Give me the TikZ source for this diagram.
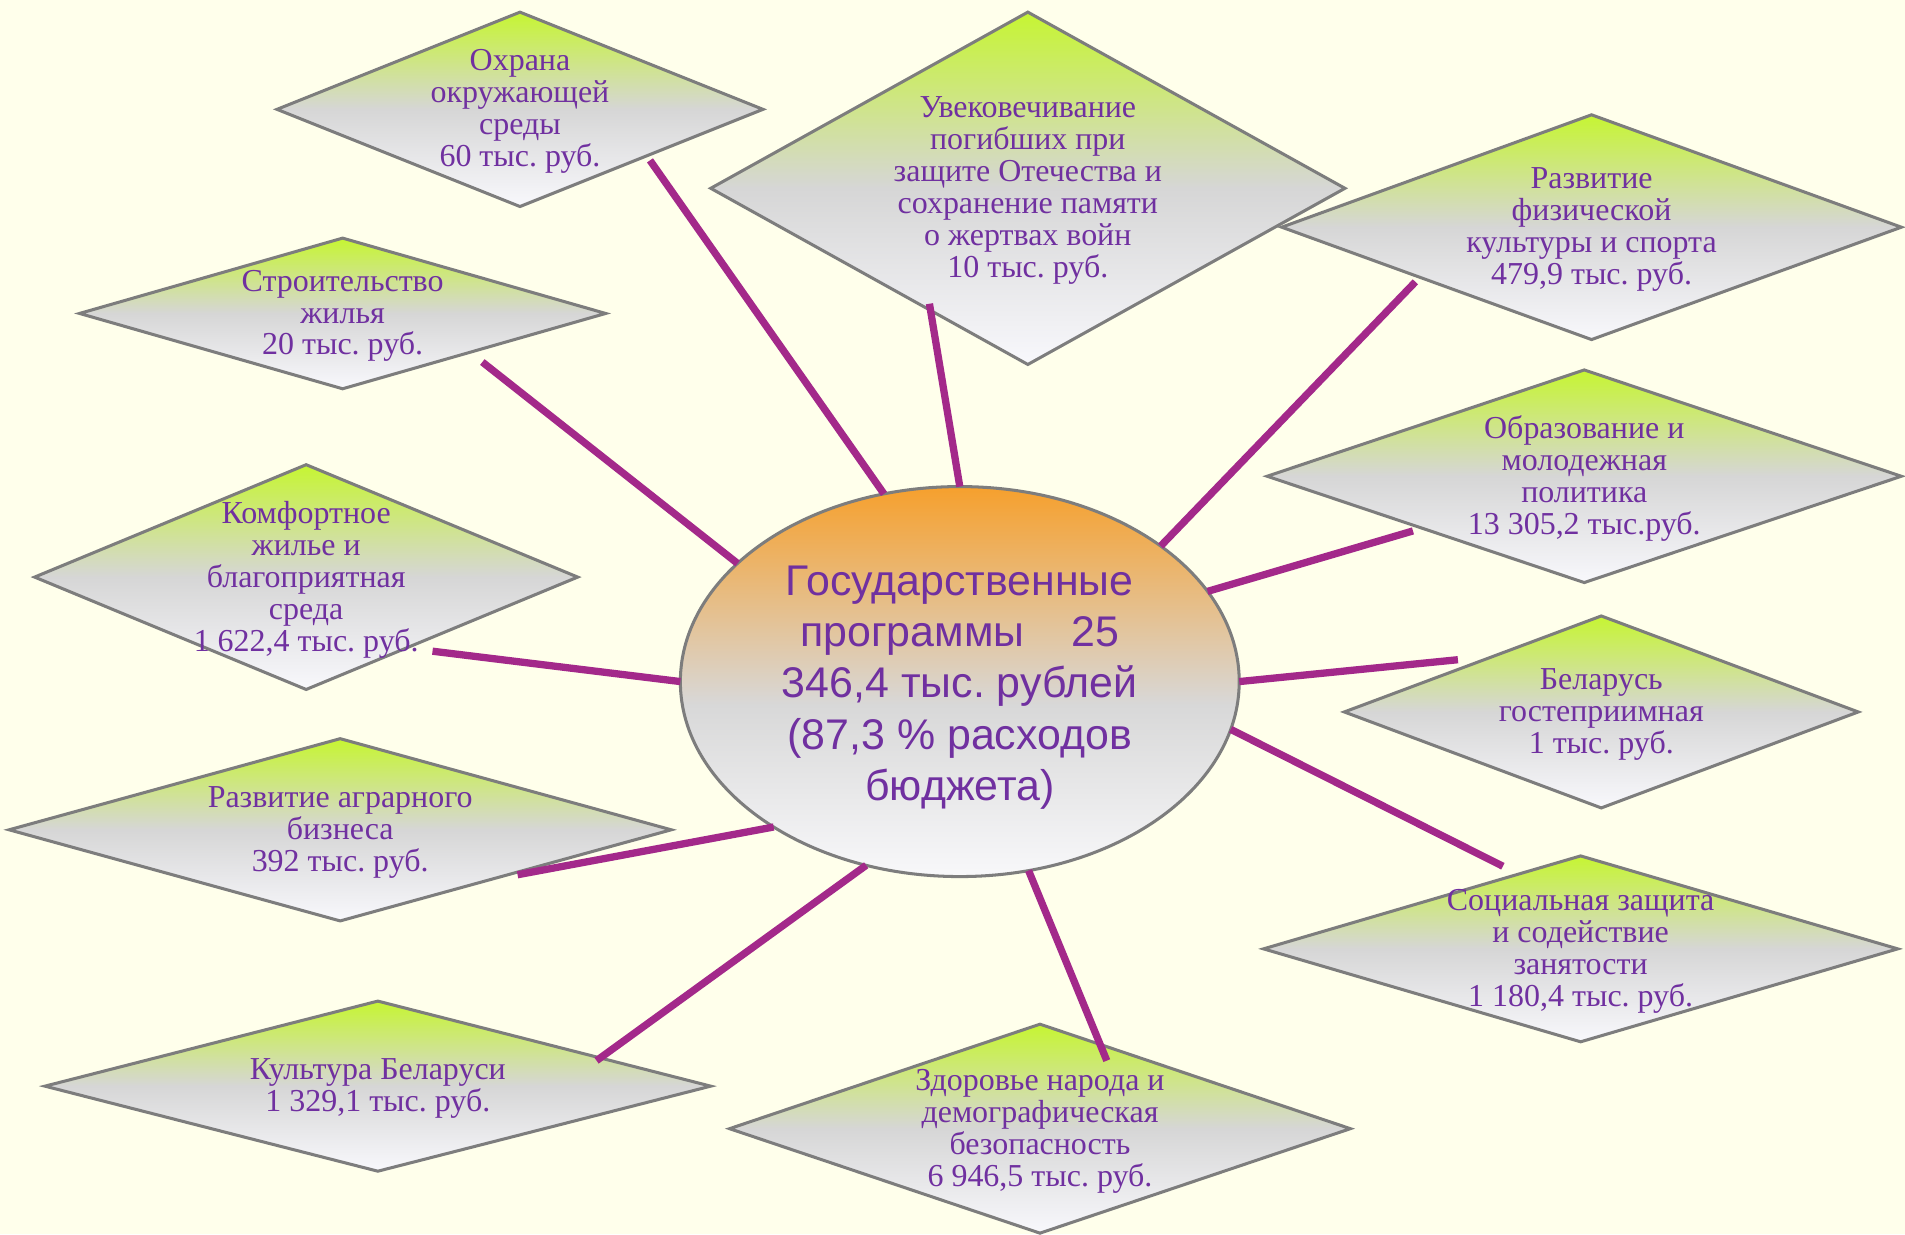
\documentclass[tikz,border=0pt]{standalone}
\usepackage{fontspec}
\setmainfont{Liberation Serif}
\newfontfamily\arialf{Liberation Sans}
\usetikzlibrary{shapes.geometric}
\definecolor{bgc}{RGB}{255,255,235}
\definecolor{txt}{RGB}{112,48,160}
\definecolor{link}{RGB}{163,41,138}
\definecolor{bord}{RGB}{125,125,125}
\definecolor{dtop}{RGB}{198,245,50}
\definecolor{dmid}{RGB}{214,214,214}
\definecolor{dbot}{RGB}{248,248,252}
\definecolor{etop}{RGB}{246,160,45}
\definecolor{emid}{RGB}{216,216,216}
\definecolor{ebot}{RGB}{248,248,250}
\pgfdeclareverticalshading{diashade}{100bp}{color(0bp)=(dbot); color(25bp)=(dbot); color(50bp)=(dmid); color(75bp)=(dtop); color(100bp)=(dtop)}
\pgfdeclareverticalshading{elshade}{100bp}{color(0bp)=(ebot); color(25bp)=(ebot); color(47bp)=(emid); color(75bp)=(etop); color(100bp)=(etop)}
\tikzset{
  dia/.style={diamond, draw=bord, line width=2.5pt, shade, shading=diashade, inner sep=0pt, outer sep=0pt},
  lbl/.style={text=txt, align=center, font=\fontsize{26.3}{26.3}\selectfont, inner sep=0pt, yshift=-2pt},
  conn/.style={draw=link, line width=6pt},
  hub/.style={ellipse, draw=bord, line width=2.5pt, shade, shading=elshade, inner sep=0pt, outer sep=0pt},
  hubtext/.style={text=txt, align=center, inner sep=0pt, font=\arialf\fontsize{35.3}{42}\selectfont}
}
\begin{document}
\frenchspacing
\begin{tikzpicture}[x=1pt,y=-1pt]
\fill[bgc] (0,0) rectangle (1568,1016);
\useasboundingbox (0,0) rectangle (1568,1016);

% diamonds
\node[dia, minimum width=400pt, minimum height=160pt] (d1) at (428,90) {};
\node[lbl] (t1) at (d1.center) {Охрана\\окружающей\\среды\\60 тыс. руб.};
\node[dia, minimum width=522pt, minimum height=290pt] (d2) at (846,155) {};
\node[lbl] (t2) at (d2.center) {Увековечивание\\погибших при\\защите Отечества и\\сохранение памяти\\о жертвах войн\\10 тыс. руб.};
\node[dia, minimum width=510pt, minimum height=185pt] (d3) at (1310,187) {};
\node[lbl] (t3) at (d3.center) {Развитие\\физической\\культуры и спорта\\479,9 тыс. руб.};
\node[dia, minimum width=433pt, minimum height=124pt] (d4) at (282,258) {};
\node[lbl] (t4) at (d4.center) {Строительство\\жилья\\20 тыс. руб.};
\node[dia, minimum width=522pt, minimum height=175pt] (d5) at (1304,392) {};
\node[lbl] (t5) at (d5.center) {Образование и\\молодежная\\политика\\13 305,2 тыс.руб.};
\node[dia, minimum width=447pt, minimum height=185pt] (d6) at (252,475) {};
\node[lbl] (t6) at (d6.center) {Комфортное\\жилье и\\благоприятная\\среда\\1 622,4 тыс. руб.};
\node[dia, minimum width=423pt, minimum height=158pt] (d7) at (1318,586) {};
\node[lbl] (t7) at (d7.center) {Беларусь\\гостеприимная\\1 тыс. руб.};
\node[dia, minimum width=545pt, minimum height=150pt] (d8) at (280,683) {};
\node[lbl] (t8) at (d8.center) {Развитие аграрного\\бизнеса\\392 тыс. руб.};
\node[dia, minimum width=522pt, minimum height=153pt] (d9) at (1301,781) {};
\node[lbl] (t9) at (d9.center) {Социальная защита\\и содействие\\занятости\\1 180,4 тыс. руб.};
\node[dia, minimum width=548pt, minimum height=140pt] (d10) at (311,894) {};
\node[lbl] (t10) at (d10.center) {Культура Беларуси\\1 329,1 тыс. руб.};
\node[dia, minimum width=511pt, minimum height=172pt] (d11) at (856,929) {};
\node[lbl] (t11) at (d11.center) {Здоровье народа и\\демографическая\\безопасность\\6 946,5 тыс. руб.};

% hub
\node[hub, minimum width=460pt, minimum height=321pt] (c) at (790,561) {};
\node[hubtext] (ct) at (790,566)
  {Государственные\\программы\hspace{1.1em}25\\346,4 тыс. рублей\\(87,3 \% расходов\\бюджета)};

% connector ends near the diamonds
\coordinate (ea) at (535,132);
\coordinate (eb) at (765,250);
\coordinate (ec) at (1165,232);
\coordinate (ed) at (397,298);
\coordinate (ee) at (1163,437);
\coordinate (ef) at (356,536);
\coordinate (eg) at (1200,543);
\coordinate (eh) at (426,720);
\coordinate (ei) at (1237,713);
\coordinate (ej) at (491,873);
\coordinate (ek) at (911,873);

\draw[conn] (c.112.1) -- (ea);
\draw[conn] (c.90) -- (eb);
\draw[conn] (c.34.7) -- (ec);
\draw[conn] (c.152.5) -- (ed);
\draw[conn] (c.20.5) -- (ee);
\draw[conn] (c.180) -- (ef);
\draw[conn] (c.0) -- (eg);
\draw[conn] (c.218.3) -- (eh);
\draw[conn] (c.350.7) -- (ei);
\draw[conn] (c.243) -- (ej);
\draw[conn] (c.290.3) -- (ek);
\end{tikzpicture}
\end{document}
